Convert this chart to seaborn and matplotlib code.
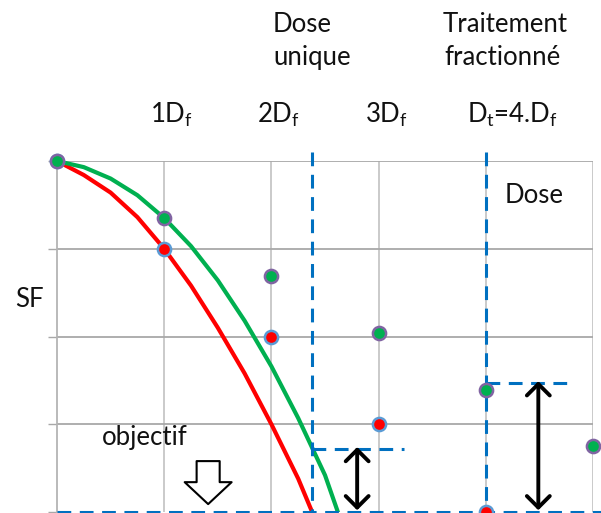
import matplotlib.pyplot as plt
import seaborn as sns
import pandas as pd

# single-dose survival curves (dose in units of Df, log10 of SF)
curve_dose_red = [0, 0.25, 0.5, 0.75, 1.0, 1.25, 1.5, 1.75, 2.0, 2.25, 2.38]
curve_sf_red = [0, -0.16, -0.36, -0.64, -1.0, -1.42, -1.9, -2.42, -3.0, -3.62, -4.0]
curve_dose_green = [0, 0.25, 0.5, 0.75, 1.0, 1.25, 1.5, 1.75, 2.0, 2.25, 2.5, 2.62]
curve_sf_green = [0, -0.07, -0.2, -0.39, -0.65, -0.97, -1.36, -1.82, -2.34, -2.93, -3.58, -4.0]

# fractionated treatment points
frac_dose_red = [0, 1, 2, 3, 4]
frac_sf_red = [0, -1.0, -2.0, -3.0, -4.0]
frac_dose_green = [0, 1, 2, 3, 4, 5]
frac_sf_green = [0, -0.65, -1.31, -1.96, -2.61, -3.25]

# reference levels
objective_sf = -4.0
single_dose = 2.38
single_green_sf = -3.28
frac_total_dose = 4
frac_green_sf = -2.53

dose_labels = ['1D$_f$', '2D$_f$', '3D$_f$', 'D$_t$=4.D$_f$']

sns.set_style('white')
plt.rcParams['font.family'] = ['Lato', 'DejaVu Sans']
plt.rcParams['mathtext.default'] = 'regular'

W, H = 601, 513
fig = plt.figure(figsize=(W / 100, H / 100), dpi=100)
ax = fig.add_axes([57 / W, 1 / H, 536 / W, 351 / H])


def ftext(x, y, s, **kw):
    # position in pixels from top-left of the figure
    fig.text(x / W, 1 - y / H, s, fontsize=18.5, color='#111111', va='baseline', **kw)


ax.set_xlim(0, 5)
ax.set_ylim(-4, 0)
ax.set_xticks(range(6))
ax.set_yticks(range(-4, 1))
ax.set_xticklabels([])
ax.set_yticklabels([])
ax.grid(False)
for x in range(1, 6):
    ax.axvline(x, color='#c6c6c6', lw=1.3, zorder=0)
for y in range(-3, 1):
    ax.axhline(y, color='#a8a8a8', lw=1.3, zorder=0)
for s in ['top', 'right', 'bottom']:
    ax.spines[s].set_visible(False)
ax.spines['left'].set_color('#b4b4b4')
ax.spines['left'].set_linewidth(1.3)
ax.tick_params(axis='y', left=True, length=6.5, width=1.0, color='#a8a8a8', direction='out')
ax.tick_params(axis='x', bottom=False)

blue = '#0070c0'
dash = (0, (4.5, 2.8))
ax.plot([0, 5.08], [objective_sf, objective_sf], color=blue, lw=2.2, ls=dash, clip_on=False, zorder=3)
ax.plot([single_dose, single_dose], [0.1, objective_sf], color=blue, lw=2.2, ls=dash, clip_on=False, zorder=3)
ax.plot([frac_total_dose, frac_total_dose], [0.1, objective_sf], color=blue, lw=2.2, ls=dash, clip_on=False, zorder=3)
ax.plot([single_dose, 3.24], [single_green_sf, single_green_sf], color=blue, lw=2.2, ls=dash, zorder=3)
ax.plot([frac_total_dose, 4.8], [frac_green_sf, frac_green_sf], color=blue, lw=2.2, ls=dash, zorder=3)

sns.lineplot(x=curve_dose_red, y=curve_sf_red, color='#ff0000', lw=3, ax=ax, zorder=2, sort=False)
sns.lineplot(x=curve_dose_green, y=curve_sf_green, color='#00b050', lw=3, ax=ax, zorder=2, sort=False)

red_pts = pd.DataFrame({'dose': frac_dose_red, 'sf': frac_sf_red})
green_pts = pd.DataFrame({'dose': frac_dose_green, 'sf': frac_sf_green})
sns.scatterplot(data=red_pts, x='dose', y='sf', color='#ff0000', edgecolor='#5b9bd5',
                linewidth=1.8, s=90, ax=ax, zorder=4, clip_on=False)
sns.scatterplot(data=green_pts, x='dose', y='sf', color='#00b050', edgecolor='#8064a2',
                linewidth=1.8, s=90, ax=ax, zorder=5, clip_on=False)
ax.set_xlabel('')
ax.set_ylabel('')

# double arrows
for x, y0 in [(2.8, single_green_sf), (4.49, frac_green_sf)]:
    ax.annotate('', xy=(x, objective_sf + 0.02), xytext=(x, y0 + 0.02),
                arrowprops=dict(arrowstyle='<->,head_length=0.55,head_width=0.55', lw=2.8,
                                color='black', mutation_scale=15, shrinkA=0, shrinkB=0),
                zorder=6)

# hollow "objectif" arrow
ax.annotate('', xy=(1.41, -3.91), xytext=(1.41, -3.42),
            arrowprops=dict(arrowstyle='simple,head_length=0.79,head_width=1.69,tail_width=0.83',
                            fc='white', ec='black', lw=1.5, mutation_scale=20,
                            shrinkA=0, shrinkB=0), zorder=6)

ftext(273, 32, 'Dose')
ftext(273, 65, 'unique')
ftext(443, 32, 'Traitement')
ftext(444, 65, 'fractionné')
for cx, lab in zip([171, 278, 386, 512], dose_labels):
    ftext(cx, 123, lab, ha='center')
ftext(505, 203, 'Dose')
ftext(15, 307, 'SF')
ftext(102, 445, 'objectif')

fig.savefig('out.png', dpi=100)
